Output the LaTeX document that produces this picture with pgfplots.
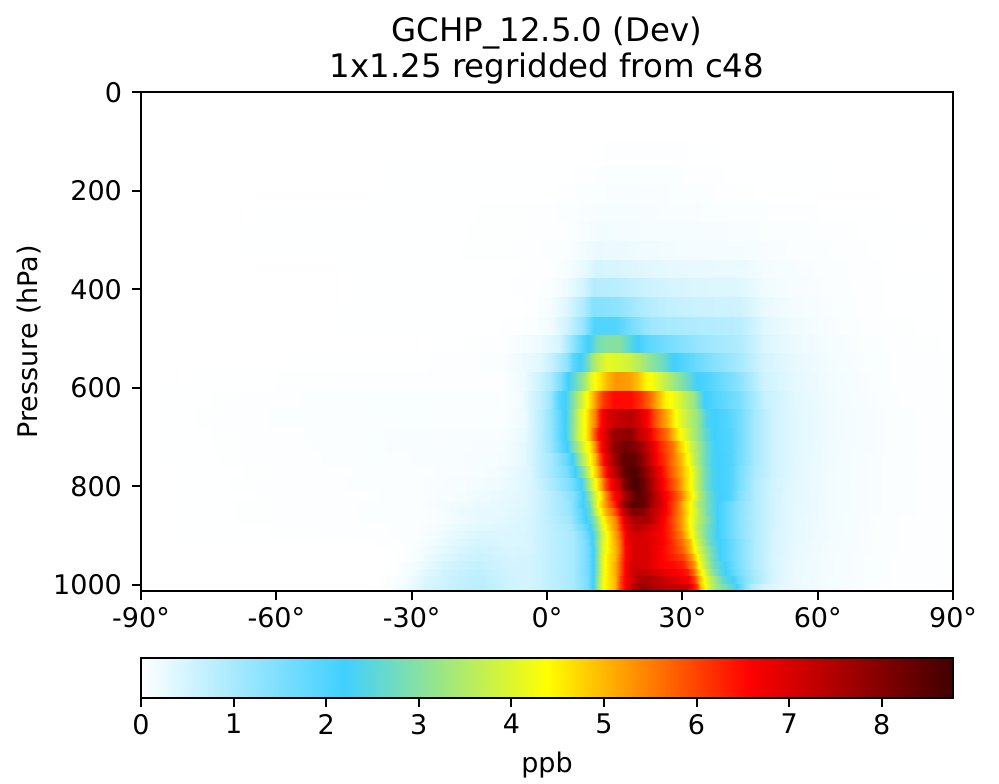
\documentclass[border=0pt]{standalone}
\usepackage{fontspec}
\setmainfont{DejaVu Sans}
\usepackage{pgfplots}
\pgfplotsset{compat=1.18}
\pgfplotsset{colormap={whgr}{rgb255(0cm)=(255,255,255); rgb255(1cm)=(64,208,255); rgb255(2cm)=(255,255,0); rgb255(3cm)=(255,0,0); rgb255(4cm)=(64,0,0)}}
% one pressure band: top edge, bottom edge, latitude/value pairs
\newcommand\band[3]{%
  \gdef\coordsA{}\gdef\coordsB{}%
  \foreach \x/\v in {#3}{\xdef\coordsA{\coordsA (\x,#1) [\v]}\xdef\coordsB{\coordsB (\x,#2) [\v]}}%
  \edef\temp{\noexpand\addplot[surf,shader=interp,mesh/rows=2,point meta=explicit] coordinates {\coordsA\coordsB};}%
  \temp}
\pgfplotsset{common/.style={
  scale only axis,width=406pt,
  axis on top=true,
  axis line style={line width=1pt},
  tick style={line width=1pt,black},
  major tick length=4.5pt,
  tick align=outside,xtick pos=lower,ytick pos=left,
  /pgf/number format/assume math mode=true,
  /pgf/number format/1000 sep={},
  ticklabel style={font=\fontsize{13.5pt}{15pt}\selectfont},
  colormap name=whgr,
  point meta min=0,point meta max=8.77,
}}
\begin{document}
\begin{tikzpicture}
\path[use as bounding box] (-70.5pt,-95.85pt) rectangle (429pt,295.65pt);
\begin{axis}[
  common,
  at={(0pt,0pt)},anchor=south west,
  height=249.5pt,
  xmin=-90,xmax=90,ymin=0,ymax=1013.25,y dir=reverse,
  xtick={-90,-60,-30,0,30,60,90},
  xticklabels={-90°,-60°,-30°,0°,30°,60°,90°},
  ytick={0,200,400,600,800,1000},
  yticklabel style={xshift=-1.5pt},
  ylabel={Pressure (hPa)},
  every axis y label/.style={at={(axis description cs:-0.138,0.5)},rotate=90,anchor=center,font=\fontsize{13.5pt}{15pt}\selectfont},
  title={GCHP\_12.5.0 (Dev)\\1x1.25 regridded from c48},
  title style={align=center,font=\fontsize{16.2pt}{18pt}\selectfont,yshift=-5.5pt},
]
\band{100}{150}{-90/0,8/0,15.5/.03,26.6/.03,34/.01,42.8/0,90/0}
\band{150}{188}{-90/0,4.4/.01,8/.03,15.5/.06,26.6/.05,34/.03,42.8/.01,90/0}
\band{188}{226}{-90/0,.7/.01,8/.05,15.5/.08,26.6/.07,34/.05,42.8/.02,60/.005,90/0}
\band{226}{264}{-90/0,-3/.02,4.4/.05,11.8/.1,19/.1,26.6/.08,34/.07,42.8/.05,55/.03,63/.01,90/0}
\band{264}{302}{-90/0,-6/.02,4.4/.04,11.8/.15,19/.12,26.6/.1,34/.1,42.8/.08,55/.05,63/.03,70/.015,90/0}
\band{302}{340.6}{-90/0,-7/.02,4.4/.06,8/.15,11.8/.25,19/.2,26.6/.15,34/.12,42.8/.12,48/.09,55/.06,63/.04,70/.02,78/.005,90/0}
\band{340.6}{377}{-90/0,-10/.01,.7/.03,4.4/.1,8/.25,11/.5,15.5/.45,21.4/.35,26.6/.3,34/.25,42.8/.24,48/.13,55/.09,63/.05,70/.03,78/.005,90/0}
\band{377}{415.7}{-90/0,-10/.01,.7/.05,4.4/.2,8/.5,10.3/.85,15.5/.8,21.4/.6,26.6/.5,34/.4,42.8/.38,48/.17,55/.1,63/.06,70/.03,78/.01,90/.005}
\band{415.7}{455.7}{-90/0,-10/.01,-3/.02,.7/.1,4.4/.4,8/.9,10.3/1.4,15.5/1.3,21.4/.9,26.6/.7,34/.6,42.8/.55,48/.25,55/.13,63/.07,70/.03,78/.01,90/.005}
\band{455.7}{492.8}{-90/0,-12/.01,-3/.05,.7/.15,4.4/.55,8/1.2,10.5/2,15/2,19/1.5,23/1.1,26.6/1,34/.9,42.8/.8,48/.35,55/.18,63/.08,70/.04,78/.02,90/.01}
\band{492.8}{529}{-90/0,-30/0,-10/.03,-1.5/.2,2.9/.5,5.8/1.3,8/1.9,9.5/2.3,11/2.8,13.2/3,16/3,17.7/2.6,20/2.2,22/1.9,28/1.5,35.4/1.1,42.8/.9,48/.42,55/.22,63/.11,70/.06,78/.025,90/.015}
\band{529}{567.4}{-90/0,-30/.01,-10/.05,-1.5/.35,1.4/.7,4.4/1.3,5.8/1.9,7.3/2.2,8.8/2.7,9.9/3.3,11.4/3.7,13.2/4.1,16.2/4,18.4/3.8,20.6/3.5,22.8/3.1,25.8/2.7,28/2.2,31/1.9,35.4/1.5,39.8/1.2,42.8/1,48/.5,55/.27,63/.13,70/.07,78/.03,90/.02}
\band{567.4}{606}{-90/0,-55/.02,-30/.03,-10/.03,-5/.2,-1.5/.6,.7/.9,2.9/1.5,4.7/2.2,6.6/2.8,8.4/3.4,9.5/4,10.6/4.4,11.8/4.6,13.2/5,15.4/5.3,18.4/5.2,20.2/4.9,21.7/4.5,23.2/4.3,25.1/3.9,28/3.3,31/2.7,33.2/2.2,36.9/1.9,42.8/1.3,48/.55,55/.3,63/.15,70/.08,78/.03,90/.02}
\band{606}{644}{-90/0,-55/.04,-30/.05,-10/.04,-6/.15,-1.5/.7,.7/1.1,2.5/1.9,4/2.2,5.1/2.7,6.6/3.4,7.7/3.9,8.8/4.4,9.9/4.9,11/5.5,12.5/6.1,14.7/6.5,18.4/6.5,20.6/6.2,22.5/5.7,24.3/5.1,26.2/4.5,27.6/4.3,29.5/3.9,32.5/3.2,34.7/2.2,38.4/1.9,42.8/1.5,48/.65,55/.33,63/.16,70/.09,78/.04,90/.02}
\band{644}{682}{-90/0,-55/.05,-30/.07,-20/.05,-10/.05,-5/.2,-1.5/.75,.7/1.2,2.9/1.9,4/2.2,5.5/3,7.3/4,8.4/4.4,9.5/5,10.6/5.5,11.8/6.4,13.2/7,16.2/7.3,18.4/7.4,20.6/7,22.1/6.6,24/5.9,25.4/5.4,26.9/5,28.4/4.4,30.2/3.9,33.2/3.2,35.4/2.3,39.8/2,42.8/1.6,46/1,50/.55,55/.35,63/.17,70/.1,78/.05,90/.02}
\band{682}{707.5}{-90/0,-54/.04,-30/.08,-20/.07,-10/.08,-5/.25,-1.5/.75,.7/1.2,2.9/1.9,4/2.2,5.5/3,6.9/3.8,8.1/4.3,9.2/4.9,10.3/5.6,11.4/6.4,12.9/7,14.7/7.7,18.4/7.9,20.6/7.2,22.1/7,23.6/6.4,25.1/6,26.5/5.6,28/5,29.5/4.4,31.3/3.8,33.2/3.2,35/2.6,36.9/2.2,40.6/2,42.8/1.6,46/1,50/.55,55/.35,63/.17,70/.1,78/.05,90/.02}
\band{707.5}{733}{-90/0,-52/.04,-30/.08,-20/.08,-10/.1,-5/.3,-1.5/.75,.7/1.15,3.3/1.9,4.4/2.2,5.8/2.9,7.3/3.6,8.4/4.2,9.5/4.6,10.6/5.4,11.8/6.4,13.2/7.2,15.1/7.9,17.3/8.2,19.5/8,21.4/7.5,23.2/6.9,24.7/6.4,26.2/6,27.6/5.6,29.1/5,30.6/4.4,31.7/3.9,33.6/3.2,35.4/2.6,37.3/2.2,40.6/2,42.8/1.6,46/1,50/.55,55/.34,63/.16,70/.1,78/.05,90/.02}
\band{733}{758.5}{-90/0,-50/.04,-30/.07,-20/.08,-10/.12,-5/.3,-1.5/.75,1.4/1.1,4.4/1.8,5.5/2.2,6.9/3,8.4/3.8,9.5/4.4,10.6/5,11.8/6,13.2/7,15.1/7.7,16.9/8.4,19.1/8.4,21/7.9,22.8/7.2,24.7/6.5,26.5/6,28.4/5.4,29.9/4.9,31/4.4,32.5/3.7,34.7/2.8,36.5/2.3,40.6/2,42.8/1.6,46/1,50/.55,55/.33,63/.16,70/.09,78/.05,90/.02}
\band{758.5}{784}{-90/0,-50/.03,-30/.06,-20/.08,-15/.1,-10/.16,-4/.4,-1.5/.75,1.4/1.1,4.4/1.6,6.2/2.2,7.7/2.9,8.8/3.6,9.9/4.4,11/5,12.1/5.9,13.6/6.8,15.4/7.5,17.3/8.4,19.5/8.6,21.4/8,23.2/7.3,25.1/6.7,26.9/6,28.8/5.4,30.2/4.9,31.7/4.4,33.2/3.6,35/2.8,36.9/2.3,40.6/2,42.8/1.5,46/.95,50/.55,55/.32,63/.15,70/.09,78/.05,90/.02}
\band{784}{809.5}{-90/0,-45/.04,-30/.06,-20/.1,-15/.14,-10/.2,-4/.4,-1.5/.65,1.4/1,5.1/1.5,7.3/2.1,8.4/2.8,9.5/3.6,10.6/4.3,11.8/5,12.9/5.9,14/6.5,15.8/7.2,17.3/8.1,19.5/8.7,21.4/8.2,23.2/7.5,25.1/6.8,26.9/6.2,28.8/5.6,30.2/5,31.7/4.4,33.2/3.6,35/2.8,36.9/2.3,40.6/2,42.8/1.5,46/.9,50/.52,55/.32,63/.15,70/.09,78/.05,90/.02}
\band{809.5}{829.7}{-90/0,-45/.03,-30/.05,-20/.12,-15/.18,-10/.25,-4/.4,-1.5/.6,2.9/1,5.8/1.4,7.7/2.1,8.8/2.7,9.9/3.4,10.6/3.9,11.8/4.5,12.9/5.3,14.3/6.3,16.2/7,18/7.9,20.2/8.5,22.1/8.1,24/7.4,25.8/6.8,27.6/6.2,29.5/5.6,31/4.8,32.1/4.4,33.6/3.5,35.4/2.8,37.3/2.3,40.6/2,42.8/1.4,46/.9,50/.5,55/.31,63/.15,70/.09,78/.05,90/.02}
\band{829.7}{845}{-90/0,-30/.05,-20/.16,-15/.22,-10/.28,-4/.4,-1.5/.6,5.1/1.2,7.3/2,9.2/2.7,10.3/3.4,11.4/4.4,12.5/5,13.6/5.6,15.1/6.3,16.5/7.5,19.1/8.5,21.4/8.3,23.6/7.5,25.4/7,26.9/6.4,28.8/5.7,30.2/5,31.7/4.4,33.2/3.5,35.4/2.8,37.6/2.2,42.8/1.3,46/.88,50/.5,55/.3,63/.15,70/.09,78/.05,90/.02}
\band{845}{860.3}{-90/0,-30/.05,-25/.08,-20/.2,-15/.28,-10/.3,-4/.42,-1.5/.6,5.1/1.2,8.1/2.1,9.5/2.7,10.6/3.6,11.8/4.4,12.9/5,14.3/5.6,15.8/6.3,16.9/7.2,18.8/8,21/8,23.6/7.3,25.8/6.8,27.6/6.1,29.5/5.4,31/4.7,31.7/4.4,33.6/3.5,35.4/2.8,37.6/2.2,42.8/1.3,46/.88,50/.5,55/.3,63/.15,70/.09,78/.05,90/.02}
\band{860.3}{875.6}{-90/0,-30/.05,-25/.08,-20/.18,-15/.27,-10/.32,-4/.45,-1.5/.6,5.1/1.1,8.4/2.1,9.9/2.7,11/3.4,12.1/4.3,13.6/4.9,15.1/5.4,16.2/6.2,17.3/7,19.5/7.6,22.1/7.6,24.3/7,26.2/6.5,28/5.9,29.9/5.2,31.3/4.5,33.6/3.5,35.8/2.8,37.6/2.2,42.8/1.3,46/.88,50/.5,55/.29,63/.14,70/.08,78/.04,90/.02}
\band{875.6}{890.9}{-90/0,-40/.03,-30/.05,-25/.1,-20/.24,-15/.33,-10/.36,-4/.45,-1.5/.6,5.1/1,8.4/1.8,9.5/2.2,10.6/2.9,11.8/3.7,12.9/4.4,14/4.9,15.4/5.4,16.5/6.2,17.7/7,19.9/7.4,22.8/7.1,25.1/6.7,27.3/6.2,29.5/5.4,31.3/4.6,33.2/3.6,35.4/2.8,37.6/2.2,42.8/1.3,46/.88,50/.5,55/.29,63/.14,70/.08,78/.04,90/.02}
\band{890.9}{906.2}{-90/0,-40/.03,-30/.05,-25/.13,-20/.3,-15/.4,-10/.4,-4/.45,-1.5/.6,5.8/1,8.4/1.6,9.9/2.2,11/3,12.1/3.8,13.2/4.4,14.3/4.9,15.8/5.5,16.9/6.3,18/6.9,19.9/7.1,22.8/6.9,25.4/6.6,27.6/6.1,29.9/5.4,31.3/4.7,33.2/3.7,35.4/2.8,37.6/2.2,42.8/1.3,46/.88,50/.48,55/.28,63/.14,70/.08,78/.04,90/.02}
\band{906.2}{921.5}{-90/0,-40/.01,-30/.05,-25/.17,-22/.28,-18/.42,-15/.46,-12/.45,-8/.41,-4/.45,-1.5/.6,5.8/1,8.8/1.6,9.9/2.2,11.4/3.2,12.5/4,13.6/4.5,15.1/5.1,16.2/5.6,17.3/6.6,18.8/7,22.1/7,25.1/6.7,27.6/6.2,29.9/5.6,31.7/4.9,32.8/4.1,34.7/3.2,36.5/2.5,38.4/2.2,42.8/1.4,46/.9,50/.48,55/.27,63/.13,70/.08,78/.04,90/.02}
\band{921.5}{936.8}{-90/0,-36/0,-30/.06,-25/.22,-22/.35,-18/.48,-15/.52,-12/.5,-8/.44,-4/.45,-1.5/.6,5.8/1,8.8/1.6,10.3/2.2,11.4/3.2,12.5/4.1,13.6/4.5,15.1/5,16.2/5.6,17.3/6.5,18.8/7,22.1/7,25.1/6.6,28/6.2,30.2/5.7,31.7/5,32.8/4.3,34.7/3.4,36.5/2.7,38.4/2.2,42.8/1.4,46/.9,50/.47,55/.26,63/.13,70/.08,78/.04,90/.02}
\band{936.8}{952.1}{-90/0,-36/0,-32/.03,-28/.13,-25/.28,-22/.42,-18/.55,-15/.6,-12/.54,-8/.48,-4/.5,-1.5/.6,5.8/1,8.8/1.6,10.3/2.2,11.4/3.2,12.5/4.2,13.6/4.6,15.1/5,16.2/5.7,17.3/6.5,18.8/7,22.1/7,25.1/6.6,28/6.3,30.2/6,32.1/5.2,33.2/4.4,34.7/3.6,36.5/2.8,38.4/2.2,42.8/1.4,46/.9,50/.46,55/.25,63/.12,70/.07,78/.03,90/.02}
\band{952.1}{967.4}{-90/0,-37/0,-33/.04,-29/.15,-25/.35,-22/.5,-18/.62,-15/.66,-12/.58,-8/.5,-4/.5,-1.5/.6,5.8/1,8.8/1.6,10.3/2.2,11.4/3.2,12.5/4.2,13.6/4.6,15.1/5.1,16.2/5.8,17.3/6.6,18.8/7.1,22.1/7,25.1/6.6,28/6.5,30.2/6.3,32.5/5.3,33.6/4.3,35/3.6,36.9/2.8,38.7/2.3,42.8/1.4,46/.9,50/.45,55/.24,63/.12,70/.07,78/.03,90/.02}
\band{967.4}{982.7}{-90/0,-38/0,-34/.04,-30/.13,-26/.38,-22/.55,-18/.68,-15/.72,-12/.62,-8/.52,-4/.5,-1.5/.6,5.8/1,8.8/1.6,10.3/2.2,11.4/3.2,12.5/4.2,13.6/4.6,15.1/5.1,16.2/5.8,17.3/6.6,18.8/7.1,20.2/7.3,22.1/7.2,25.1/6.9,28/6.7,31/6.4,32.5/5.6,33.6/4.7,34.7/4.1,36.2/3.3,37.6/2.7,39.5/2.2,42.8/1.5,46/.95,50/.45,55/.23,63/.12,70/.07,78/.03,90/.02}
\band{982.7}{998}{-90/0,-39/0,-35/.05,-31/.14,-27/.4,-22/.6,-18/.72,-15/.76,-12/.66,-8/.55,-4/.5,-1.5/.6,5.8/1,8.8/1.5,10.3/2.2,11.4/3.3,12.5/4.3,13.6/4.6,15.1/5,16.2/6,17.3/6.6,18.8/7.1,20.2/7.5,22.8/7.5,25.8/7.2,28.8/6.9,31.3/6.6,32.5/6.1,33.6/5.1,34.7/4.3,36.2/3.7,37.6/3.1,39.1/2.6,41/2.2,42.8/1.6,46/1,50/.45,55/.22,63/.11,70/.07,78/.03,90/.02}
\band{998}{1013.25}{-90/0,-40/0,-36/.05,-32/.15,-27/.45,-22/.62,-18/.75,-15/.8,-12/.7,-8/.55,-4/.5,-1.5/.6,5.8/1,8.8/1.5,10.3/2.2,11.4/3.4,12.5/4.3,13.6/4.6,15.1/5,16.2/6,17.3/6.6,19.1/7.4,21/7.8,23.6/7.5,28/7.3,31/7.2,32.1/6.6,33.2/6,33.9/5,34.7/4.5,36.2/3.8,37.6/3.2,39.1/2.9,41.3/2.5,42.8/1.8,45/.95,48/.5,52/.3,63/.11,70/.07,78/.03,90/.02}
\end{axis}
\begin{axis}[
  common,
  at={(0pt,-33.5pt)},anchor=north west,
  height=19.85pt,
  xmin=0,xmax=8.77,ymin=0,ymax=1,
  xtick={0,1,2,3,4,5,6,7,8},ytick=\empty,
  xlabel={ppb},
  every axis x label/.style={at={(axis description cs:0.5,-1.69)},anchor=center,font=\fontsize{13.5pt}{15pt}\selectfont},
]
\addplot[surf,shader=interp,mesh/rows=2,point meta=explicit] coordinates {
  (0,0) [0] (2.19,0) [2.19] (4.385,0) [4.385] (6.58,0) [6.58] (8.77,0) [8.77]
  (0,1) [0] (2.19,1) [2.19] (4.385,1) [4.385] (6.58,1) [6.58] (8.77,1) [8.77]};
\end{axis}
\end{tikzpicture}
\end{document}
